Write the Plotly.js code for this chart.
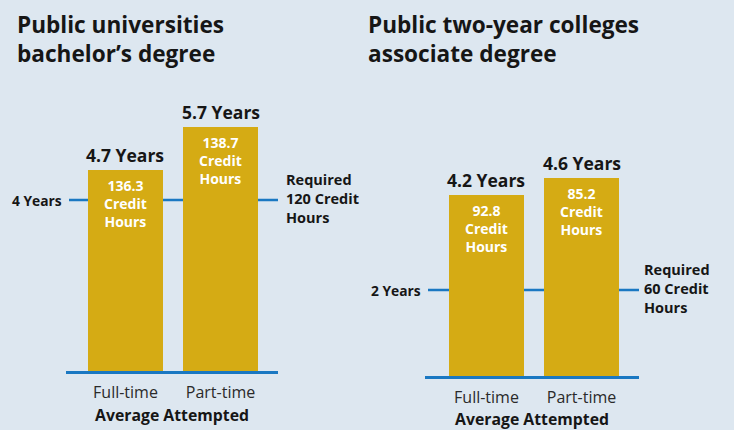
<!DOCTYPE html>
<html><head><meta charset="utf-8">
<script src="https://cdn.plot.ly/plotly-3.0.1.min.js"></script>
<style>html,body{margin:0;padding:0;background:#dde7f0;}</style>
</head><body>
<div id="chart" style="width:734px;height:430px;"></div>
<script>
const categories = ["Full-time", "Part-time"];
const uniYears = [4.7, 5.7];
const uniCredits = [136.3, 138.7];
const collegeYears = [4.2, 4.6];
const collegeCredits = [92.8, 85.2];
const uniRequiredYears = 4;
const collegeRequiredYears = 2;
const uniRequiredCredits = 120;
const collegeRequiredCredits = 60;
const panelTitles = ["Public universities<br>bachelor’s degree", "Public two-year colleges<br>associate degree"];
const axisTitle = "Average Attempted";

const W = 734, H = 430;
const FONT = "'Open Sans', sans-serif";
const BAR = "#d5ab14", LINE = "#1a78c2", BG = "#dde7f0", INK = "#161616";

function yDom(baselinePx, topPx){ return [1 - baselinePx/H, 1 - topPx/H]; }

const uniBase = 371, colBase = 376, topPx = 100;
const uniScale = 42.75, colScale = 43;

const traces = [
  {type:"bar", x:categories, y:uniYears, xaxis:"x", yaxis:"y", width:0.79,
   marker:{color:BAR}, hoverinfo:"skip", showlegend:false},
  {type:"bar", x:categories, y:collegeYears, xaxis:"x2", yaxis:"y2", width:0.79,
   marker:{color:BAR}, hoverinfo:"skip", showlegend:false}
];

const ann = [];
const shapes = [];
function panel(xa, ya, years, credits, reqYears, reqCredits, title, titleX, labelRightPx, reqLeftPx, lineX0, lineX1){
  ann.push({xref:"paper", yref:"paper", x:titleX/W, y:1-7/H, xanchor:"left", yanchor:"top",
    text:"<b>"+title+"</b>", showarrow:false, align:"left",
    font:{family:FONT, size:22.6, color:INK}});
  years.forEach((v,i)=>{
    ann.push({xref:xa, yref:ya, x:categories[i], y:v, yanchor:"bottom", xanchor:"center",
      text:"<b>"+v.toFixed(1)+" Years</b>", showarrow:false, yshift:2, borderpad:0,
      font:{family:FONT, size:17.5, color:INK}});
    ann.push({xref:xa, yref:ya, x:categories[i], y:v, yanchor:"top", xanchor:"center",
      text:"<b>"+credits[i].toFixed(1)+"<br>Credit<br>Hours</b>", showarrow:false, yshift:-5, borderpad:0,
      font:{family:FONT, size:14, color:"#ffffff"}});
  });
  ann.push({xref:"paper", yref:ya, x:labelRightPx/W, y:reqYears, xanchor:"right", yanchor:"middle",
    text:"<b>"+reqYears+" Years</b>", showarrow:false, font:{family:FONT, size:13.8, color:INK}});
  ann.push({xref:"paper", yref:ya, x:reqLeftPx/W, y:reqYears, xanchor:"left", yanchor:"middle",
    text:"<b>Required<br>"+reqCredits+" Credit<br>Hours</b>", showarrow:false, align:"left", yshift:2,
    font:{family:FONT, size:14.5, color:INK}});
  shapes.push({type:"line", layer:"below", xref:"paper", yref:ya, x0:lineX0/W, x1:lineX1/W,
    y0:reqYears, y1:reqYears, line:{color:LINE, width:2.5}});
}
panel("x","y",uniYears,uniCredits,uniRequiredYears,uniRequiredCredits,panelTitles[0],15,64,284,69,278);
panel("x2","y2",collegeYears,collegeCredits,collegeRequiredYears,collegeRequiredCredits,panelTitles[1],366,423,642,428,639);

function xaxis(d0,d1,r0,r1,anchor){
  return {domain:[d0/W,d1/W], range:[r0,r1], anchor:anchor, type:"category",
    showgrid:false, zeroline:false, showline:true, linecolor:LINE, linewidth:2.5,
    ticks:"outside", ticklen:5, tickcolor:"rgba(0,0,0,0)", tickfont:{family:FONT, size:16, color:"#2a2a2a"}, fixedrange:true,
    title:{text:"<b>"+axisTitle+"</b>", font:{family:FONT, size:15.8, color:INK}, standoff:8}};
}
const layout = {
  width:W, height:H, margin:{l:0,r:0,t:0,b:0},
  paper_bgcolor:BG, plot_bgcolor:BG, bargap:0, showlegend:false,
  xaxis: xaxis(66,278,-0.626,1.605,"y"),
  xaxis2: xaxis(425,639,-0.647,1.605,"y2"),
  yaxis:{domain:yDom(uniBase,topPx), range:[0,(uniBase-topPx)/uniScale], anchor:"x",
    visible:false, fixedrange:true},
  yaxis2:{domain:yDom(colBase,topPx), range:[0,(colBase-topPx)/colScale], anchor:"x2",
    visible:false, fixedrange:true},
  annotations:ann, shapes:shapes
};
Plotly.newPlot("chart", traces, layout, {displayModeBar:false, staticPlot:true});
</script>
</body></html>
